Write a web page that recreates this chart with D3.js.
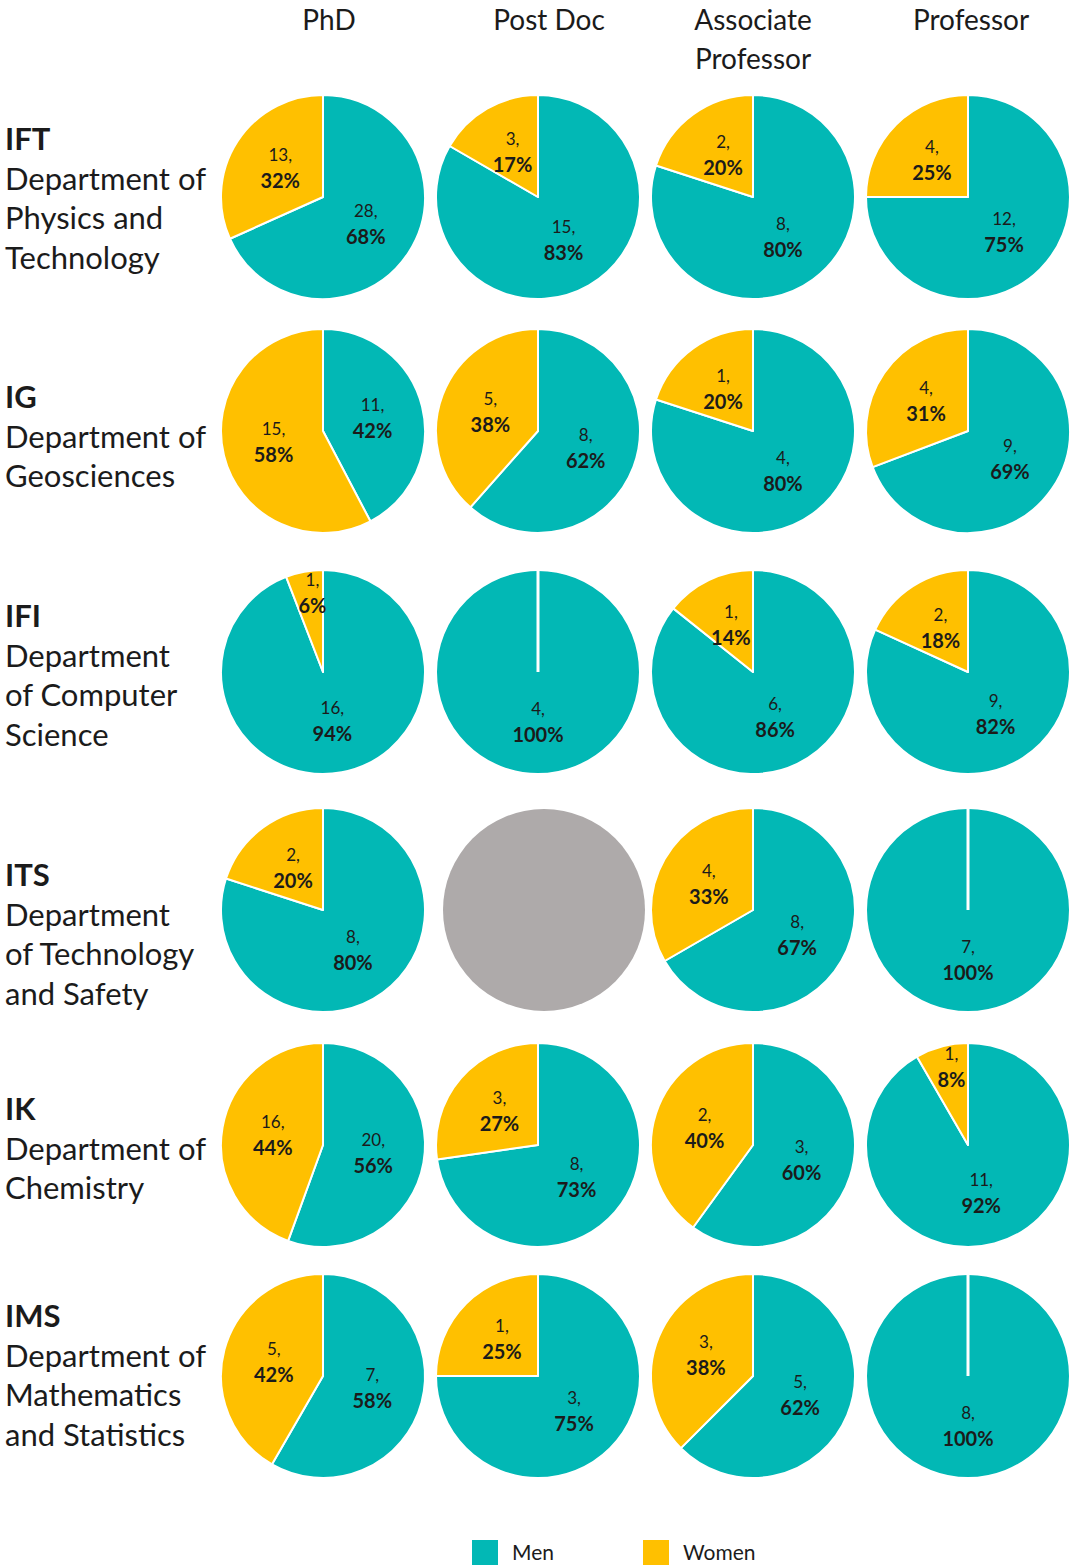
<!DOCTYPE html>
<html>
<head>
<meta charset="utf-8">
<script src="https://cdn.jsdelivr.net/npm/d3@7"></script>
<style>
  html, body { margin: 0; padding: 0; background: #ffffff; }
  svg { display: block; font-family: Lato, "Open Sans", sans-serif; }
</style>
</head>
<body>
<svg id="chart" width="1071" height="1567"></svg>
<script>
// ---------- data ----------
const levels = ["PhD", "Post Doc", "Associate Professor", "Professor"];
const levelHeaderLines = [["PhD"], ["Post Doc"], ["Associate", "Professor"], ["Professor"]];
const departments = ["IFT", "IG", "IFI", "ITS", "IK", "IMS"];
const departmentNameLines = [
  ["Department of", "Physics and", "Technology"],
  ["Department of", "Geosciences"],
  ["Department", "of Computer", "Science"],
  ["Department", "of Technology", "and Safety"],
  ["Department of", "Chemistry"],
  ["Department of", "Mathematics", "and Statistics"]
];
const series = ["Men", "Women"];
// counts per department (rows) x level (columns); null = no data
const menCounts = [
  [28, 15, 8, 12],
  [11, 8, 4, 9],
  [16, 4, 6, 9],
  [8, null, 8, 7],
  [20, 8, 3, 11],
  [7, 3, 5, 8]
];
const womenCounts = [
  [13, 3, 2, 4],
  [15, 5, 1, 4],
  [1, 0, 1, 2],
  [2, null, 4, 0],
  [16, 3, 2, 1],
  [5, 1, 3, 0]
];
const menPct = [
  [68, 83, 80, 75],
  [42, 62, 80, 69],
  [94, 100, 86, 82],
  [80, null, 67, 100],
  [56, 73, 60, 92],
  [58, 75, 62, 100]
];
const womenPct = [
  [32, 17, 20, 25],
  [58, 38, 20, 31],
  [6, 0, 14, 18],
  [20, null, 33, 0],
  [44, 27, 40, 8],
  [42, 25, 38, 0]
];

// ---------- layout ----------
const W = 1071, H = 1567;
const R = 102;
const rowCenters = [197, 431, 672, 910, 1145, 1376];
const rowLabelBaselines = [150, 408, 627, 886, 1120, 1327];
const headerOffsets = [6, 11, 0, 3];
const colors = { Men: "#02B8B5", Women: "#FFC000", none: "#AEAAAA" };
const textColor = "#1b1b1b";

const svg = d3.select("#chart");

const x = d3.scalePoint().domain(levels).range([323, 968]);
const y = d3.scaleOrdinal().domain(departments).range(rowCenters);
const labelY = d3.scaleOrdinal().domain(departments).range(rowLabelBaselines);
const color = d3.scaleOrdinal().domain(series).range([colors.Men, colors.Women]);

// column headers
levels.forEach((lv, i) => {
  const cx = x(lv) + headerOffsets[i];
  const t = svg.append("text")
    .attr("x", cx)
    .attr("y", 30)
    .attr("text-anchor", "middle")
    .attr("font-size", 28)
    .attr("fill", textColor);
  levelHeaderLines[i].forEach((ln, j) => {
    t.append("tspan").attr("x", cx).attr("dy", j === 0 ? 0 : 39).text(ln);
  });
});

// row labels
departments.forEach((dep, i) => {
  const t = svg.append("text")
    .attr("x", 5)
    .attr("y", labelY(dep))
    .attr("font-size", 31)
    .attr("fill", textColor);
  t.append("tspan").attr("x", 5).attr("font-weight", "bold").text(dep);
  departmentNameLines[i].forEach(ln => {
    t.append("tspan").attr("x", 5).attr("dy", 39.5).text(ln);
  });
});

// pies
const pie = d3.pie().sort(null).value(d => d.v).startAngle(0).endAngle(2 * Math.PI);
const arc = d3.arc().innerRadius(0).outerRadius(R);

departments.forEach((dep, i) => {
  levels.forEach((lv, j) => {
    const g = svg.append("g").attr("transform", `translate(${x(lv)},${y(dep)})`);
    const m = menCounts[i][j], w = womenCounts[i][j];
    if (m === null || w === null) {
      g.append("circle").attr("cx", 6).attr("r", R - 1).attr("fill", colors.none);
      return;
    }
    const slices = [
      { key: "Men", v: m, pct: menPct[i][j] },
      { key: "Women", v: w, pct: womenPct[i][j] }
    ];
    const arcs = pie(slices);
    g.selectAll("path.slice").data(arcs.filter(a => a.data.v > 0)).join("path")
      .attr("class", "slice")
      .attr("d", arc)
      .attr("fill", d => color(d.data.key))
      .attr("stroke", "#ffffff")
      .attr("stroke-width", 2)
      .attr("stroke-linejoin", "round");
    if (m === 0 || w === 0) {
      g.append("line")
        .attr("x1", 0).attr("y1", 0).attr("x2", 0).attr("y2", -R)
        .attr("stroke", "#ffffff").attr("stroke-width", 3);
    }
    arcs.filter(a => a.data.v > 0).forEach(a => {
      const mid = (a.startAngle + a.endAngle) / 2;
      const frac = (a.endAngle - a.startAngle) / (2 * Math.PI);
      const dist = frac < 0.1 ? R * 0.78 : R * 0.5;
      const lx = Math.sin(mid) * dist + (frac < 0.1 ? 4 : 0);
      const ly = -Math.cos(mid) * dist;
      const t = g.append("text")
        .attr("text-anchor", "middle")
        .attr("fill", textColor);
      t.append("tspan").attr("x", lx).attr("y", ly - 8)
        .attr("font-size", 17).text(a.data.v + ",");
      t.append("tspan").attr("x", lx).attr("y", ly + 19)
        .attr("font-size", 20).attr("font-weight", "bold").text(a.data.pct + "%");
    });
  });
});

// legend
const legendX = d3.scaleOrdinal().domain(series).range([472, 643]);
const lg = svg.append("g");
series.forEach(s => {
  lg.append("rect")
    .attr("x", legendX(s)).attr("y", 1540)
    .attr("width", 26).attr("height", 25)
    .attr("fill", color(s));
  lg.append("text")
    .attr("x", legendX(s) + 40).attr("y", 1560)
    .attr("font-size", 21)
    .attr("fill", textColor)
    .text(s);
});
</script>
</body>
</html>
